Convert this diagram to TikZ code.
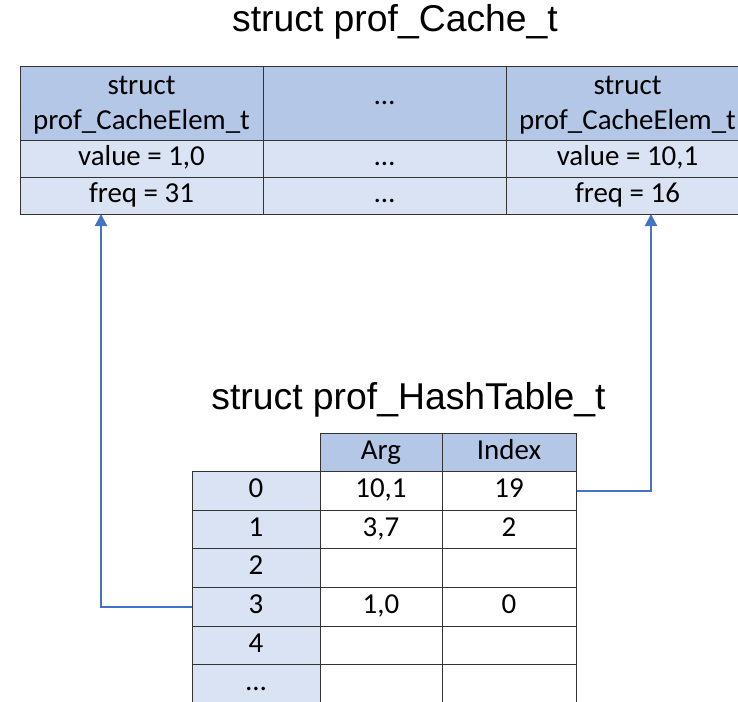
\documentclass[tikz,border=0pt]{standalone}
\usepackage{fontspec}
\setmainfont{Carlito}
\newfontfamily\titlefont{Liberation Sans}
\usepackage{tikz}
\usetikzlibrary{arrows.meta}

\definecolor{hdrblue}{RGB}{180,199,231}
\definecolor{rowblue}{RGB}{218,227,243}
\definecolor{linkblue}{RGB}{68,114,196}

\tikzset{
  cell/.style={draw=black!80, line width=0.75pt, inner sep=0pt, align=center,
    font=\fontsize{21.7}{26}\selectfont},
  oneline/.style={text height=14pt, text depth=4pt},
  elemcell/.style={cell, minimum width=182.25pt},
  hashcell/.style={cell, oneline, minimum height=28.95pt},
  title/.style={font=\titlefont\fontsize{28}{32}\selectfont},
  link/.style={linkblue, line width=1.6pt, -{Triangle[width=9pt,length=9pt]}}
}

\begin{document}
\begin{tikzpicture}[x=0.75pt,y=0.75pt,yscale=-1]
\useasboundingbox (0,0) rectangle (738,701);
\clip (0,0) rectangle (738,701);

%Title: cache
\node[title] (cachetitle) at (395,22) {struct prof\_Cache\_t};

%Cache elements
\node[elemcell, fill=hdrblue, minimum height=55.5pt] (e1) at (141.5,103) {\rule{0pt}{17pt}struct\\prof\_CacheElem\_t};
\node[elemcell, fill=hdrblue, minimum height=55.5pt] (e2) at (384.5,103) {\dots};
\node[elemcell, fill=hdrblue, minimum height=55.5pt] (e3) at (627.5,103) {\rule{0pt}{17pt}struct\\prof\_CacheElem\_t};
\node[elemcell, oneline, fill=rowblue, minimum height=27.75pt] (v1) at (141.5,158.5) {value = 1,0};
\node[elemcell, oneline, fill=rowblue, minimum height=27.75pt] (v2) at (384.5,158.5) {\dots};
\node[elemcell, oneline, fill=rowblue, minimum height=27.75pt] (v3) at (627.5,158.5) {value = 10,1};
\node[elemcell, oneline, fill=rowblue, minimum height=27.75pt] (f1) at (141.5,195.5) {freq = 31};
\node[elemcell, oneline, fill=rowblue, minimum height=27.75pt] (f2) at (384.5,195.5) {\dots};
\node[elemcell, oneline, fill=rowblue, minimum height=27.75pt] (f3) at (627.5,195.5) {freq = 16};

%Title: hash table
\node[title] (hashtitle) at (408.5,400) {struct prof\_HashTable\_t};

%Hash table header
\node[hashcell, fill=hdrblue, minimum width=91.5pt, minimum height=29.25pt] (arghdr) at (381,452.5) {Arg};
\node[hashcell, fill=hdrblue, minimum width=100.5pt, minimum height=29.25pt] (idxhdr) at (509,452.5) {Index};

%Hash table rows
\foreach \k/\a/\i [count=\r from 0] in {0/{10,1}/19, 1/{3,7}/2, 2//, 3/{1,0}/0, 4//, \dots//} {
  \node[hashcell, fill=rowblue, minimum width=96pt] (key\r) at (256,491+38.6*\r) {\k};
  \node[hashcell, fill=white, minimum width=91.5pt] (arg\r) at (381,491+38.6*\r) {\a};
  \node[hashcell, fill=white, minimum width=100.5pt] (idx\r) at (509,491+38.6*\r) {\i};
}

%Links
\coordinate (hit1) at (101,214);
\coordinate (hit3) at (651,214);
\draw[link] (key3.west) -| (hit1);
\draw[link] (idx0.east) -| (hit3);

\end{tikzpicture}
\end{document}
